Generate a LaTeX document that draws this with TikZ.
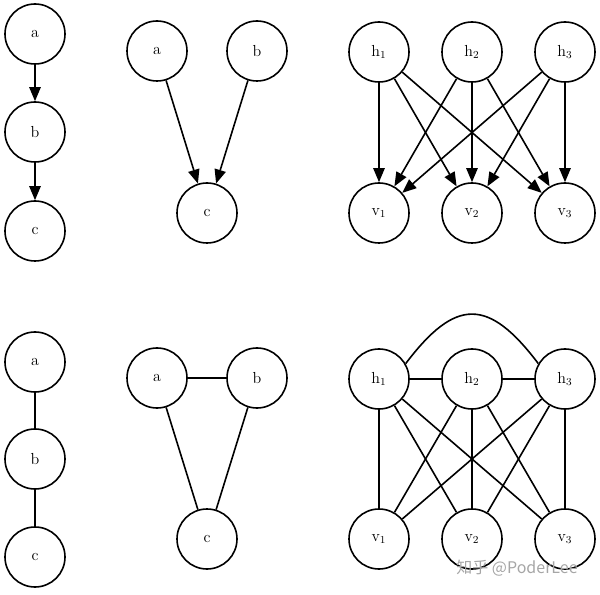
\documentclass[tikz,border=0pt]{standalone}
\usepackage{fontspec}
\newfontfamily\cjkfont{Noto Sans CJK SC}
\usepackage{tikz}
\usetikzlibrary{arrows.meta}
\tikzset{
  var/.style    = {draw, circle, line width=1.2pt, minimum size=45pt, inner sep=0pt,
                   font=\large},
  dir/.style    = {-{Triangle[length=10.5pt,width=8.5pt]}, line width=1.2pt},
  undir/.style  = {line width=1.2pt},
  wmark/.style  = {font=\cjkfont\large, text=black!35},
}

\begin{document}
\begin{tikzpicture}[x=0.75pt, y=-0.75pt]
\useasboundingbox (0,0) rectangle (600,595);

% directed: chain
\node[var] (ca) at (35,34)  {a};
\node[var] (cb) at (35,132) {b};
\node[var] (cc) at (35,231) {c};
\draw[dir] (ca) -- (cb);
\draw[dir] (cb) -- (cc);

% directed: collider
\node[var] (va) at (157,51)  {a};
\node[var] (vb) at (257,51)  {b};
\node[var] (vc) at (207,213) {c};
\draw[dir] (va) -- (vc);
\draw[dir] (vb) -- (vc);

% directed: bipartite
\foreach \i/\x in {1/379,2/472,3/565} {
  \node[var] (h\i) at (\x,52)  {h$_\i$};
  \node[var] (v\i) at (\x,213) {v$_\i$};
}
\foreach \i in {1,2,3}
  \foreach \j in {1,2,3}
    \draw[dir] (h\i) -- (v\j);

% undirected: chain
\node[var] (ua) at (35,362) {a};
\node[var] (ub) at (35,459) {b};
\node[var] (uc) at (35,557) {c};
\draw[undir] (ua) -- (ub);
\draw[undir] (ub) -- (uc);

% undirected: triangle
\node[var] (ta) at (157,378) {a};
\node[var] (tb) at (257,378) {b};
\node[var] (tc) at (207,539) {c};
\draw[undir] (ta) -- (tb);
\draw[undir] (ta) -- (tc);
\draw[undir] (tb) -- (tc);

% undirected: fully connected
\foreach \i/\x in {1/379,2/472,3/565} {
  \node[var] (H\i) at (\x,379) {h$_\i$};
  \node[var] (V\i) at (\x,539) {v$_\i$};
}
\foreach \i in {1,2,3}
  \foreach \j in {1,2,3}
    \draw[undir] (H\i) -- (V\j);
\draw[undir] (H1) -- (H2);
\draw[undir] (H2) -- (H3);
\draw[undir] (H1.30) .. controls +(50,-66) and +(-50,-66) .. (H3.150);

\node[wmark] (wm) at (517,568) {知乎 @PoderLee};

\end{tikzpicture}
\end{document}
